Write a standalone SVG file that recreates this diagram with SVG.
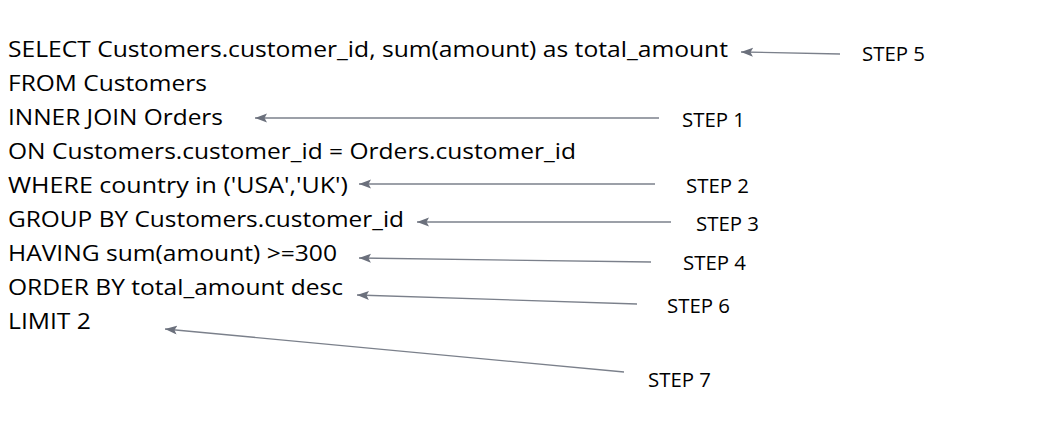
<svg xmlns="http://www.w3.org/2000/svg" width="1048" height="428" viewBox="0 0 1048 428">
<style>
.sql{font-family:"Open Sans","Liberation Sans",sans-serif;font-size:22px;fill:#000}
.step{font-family:"Open Sans","Liberation Sans",sans-serif;font-size:19.5px;fill:#000}
.arr{stroke:#7b808b;stroke-width:1.3;fill:none;marker-end:url(#ah)}
</style>
<defs>
<marker id="ah" markerUnits="userSpaceOnUse" markerWidth="14" markerHeight="10" refX="12" refY="4.5" orient="auto">
<path d="M0,0 L12,4.5 L0,9 L2.5,4.5 z" fill="#6b707c"/>
</marker>
</defs>
<rect width="1048" height="428" fill="#fff"/>
<g id="query">
<text class="sql" x="8" y="57" textLength="720" lengthAdjust="spacingAndGlyphs">SELECT Customers.customer_id, sum(amount) as total_amount</text>
<text class="sql" x="8" y="91" textLength="199" lengthAdjust="spacingAndGlyphs">FROM Customers</text>
<text class="sql" x="8" y="125" textLength="215" lengthAdjust="spacingAndGlyphs">INNER JOIN Orders</text>
<text class="sql" x="8" y="159" textLength="568" lengthAdjust="spacingAndGlyphs">ON Customers.customer_id = Orders.customer_id</text>
<text class="sql" x="8" y="193" textLength="340" lengthAdjust="spacingAndGlyphs">WHERE country in ('USA','UK')</text>
<text class="sql" x="8" y="227" textLength="396" lengthAdjust="spacingAndGlyphs">GROUP BY Customers.customer_id</text>
<text class="sql" x="8" y="261" textLength="329" lengthAdjust="spacingAndGlyphs">HAVING sum(amount) &gt;=300</text>
<text class="sql" x="8" y="295" textLength="335" lengthAdjust="spacingAndGlyphs">ORDER BY total_amount desc</text>
<text class="sql" x="8" y="329" textLength="83" lengthAdjust="spacingAndGlyphs">LIMIT 2</text>
</g>
<g id="step5"><text class="step" x="862" y="61" textLength="63" lengthAdjust="spacingAndGlyphs">STEP 5</text></g>
<g id="step1"><text class="step" x="682" y="127" textLength="63" lengthAdjust="spacingAndGlyphs">STEP 1</text></g>
<g id="step2"><text class="step" x="686" y="193" textLength="63" lengthAdjust="spacingAndGlyphs">STEP 2</text></g>
<g id="step3"><text class="step" x="696" y="231" textLength="63" lengthAdjust="spacingAndGlyphs">STEP 3</text></g>
<g id="step4"><text class="step" x="683" y="270" textLength="63" lengthAdjust="spacingAndGlyphs">STEP 4</text></g>
<g id="step6"><text class="step" x="667" y="313" textLength="63" lengthAdjust="spacingAndGlyphs">STEP 6</text></g>
<g id="step7"><text class="step" x="648" y="387" textLength="63" lengthAdjust="spacingAndGlyphs">STEP 7</text></g>
<g id="connectors">
<line class="arr" x1="840" y1="54" x2="741" y2="52"/>
<line class="arr" x1="659" y1="118" x2="255" y2="118"/>
<line class="arr" x1="655" y1="184" x2="359" y2="184"/>
<line class="arr" x1="671" y1="222" x2="417" y2="222"/>
<line class="arr" x1="651" y1="262" x2="359" y2="258"/>
<line class="arr" x1="637" y1="304" x2="357" y2="295"/>
<line class="arr" x1="624" y1="372" x2="165" y2="329"/>
</g>
</svg>
